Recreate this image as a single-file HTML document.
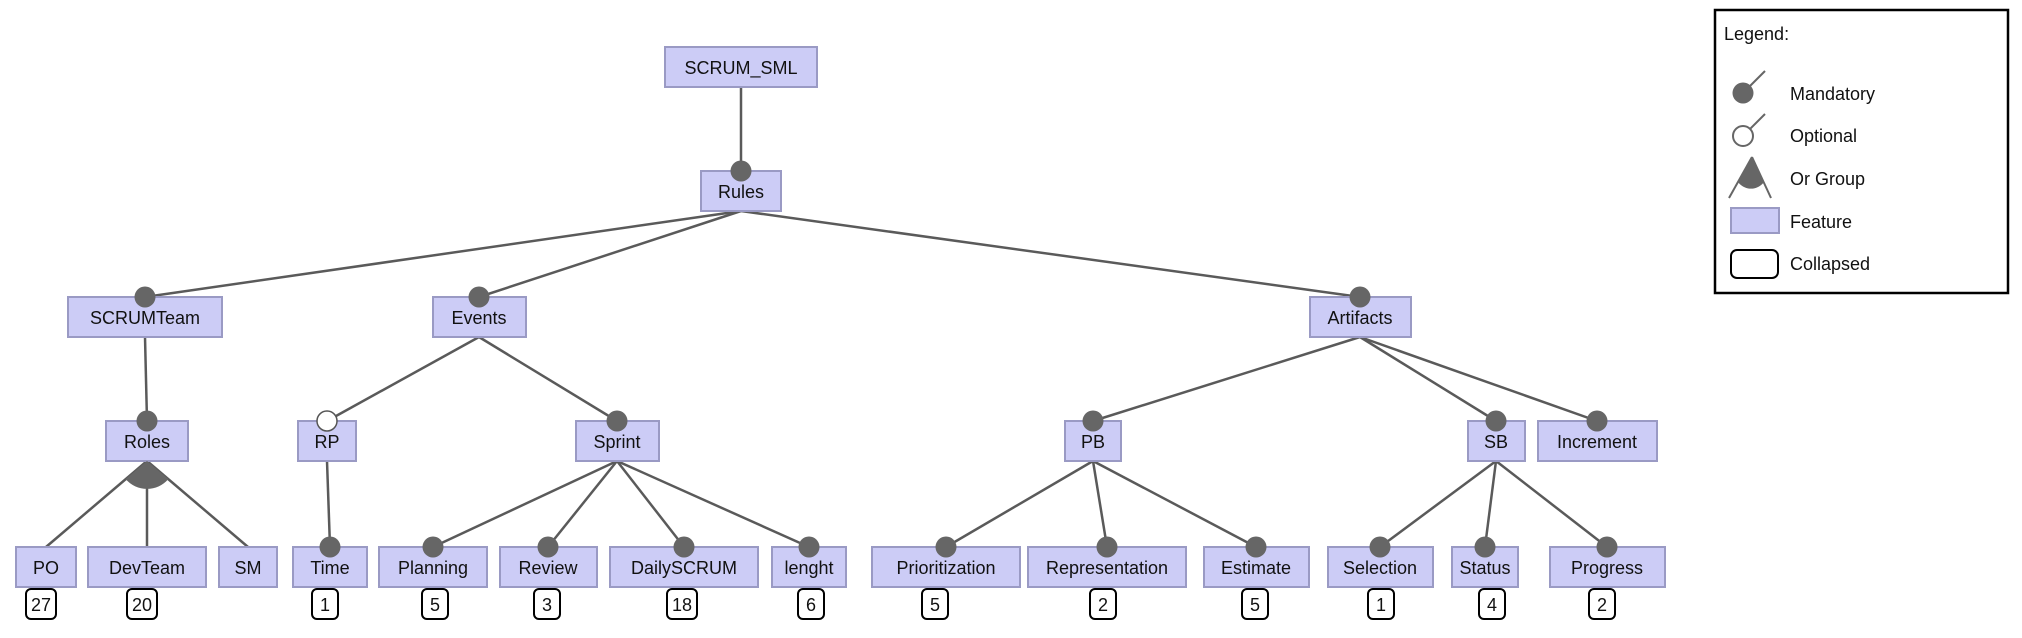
<!DOCTYPE html>
<html><head><meta charset="utf-8"><style>
html,body{margin:0;padding:0;background:#fff;}
svg{display:block;}
text{font-family:"Liberation Sans",sans-serif;font-size:18px;fill:#111;}
.n{fill:#ccccf6;stroke:#9a9ac4;stroke-width:2;}
.e{stroke:#5a5a5a;stroke-width:2.5;fill:none;}
.m{fill:#666;}
.c{fill:#fff;stroke:#000;stroke-width:2;}
</style></head><body>
<svg width="2022" height="638" viewBox="0 0 2022 638" xmlns="http://www.w3.org/2000/svg">
<g class="e">
<line x1="741" y1="87" x2="741" y2="171"/>
<line x1="741" y1="211" x2="145" y2="297"/>
<line x1="741" y1="211" x2="479" y2="297"/>
<line x1="741" y1="211" x2="1360" y2="297"/>
<line x1="145" y1="337" x2="147" y2="421"/>
<line x1="479" y1="337" x2="327" y2="421"/>
<line x1="479" y1="337" x2="617" y2="421"/>
<line x1="1360" y1="337" x2="1093" y2="421"/>
<line x1="1360" y1="337" x2="1496" y2="421"/>
<line x1="1360" y1="337" x2="1597" y2="421"/>
<line x1="147" y1="461" x2="46" y2="547"/>
<line x1="147" y1="461" x2="147" y2="547"/>
<line x1="147" y1="461" x2="248" y2="547"/>
<line x1="327" y1="461" x2="330" y2="547"/>
<line x1="617" y1="461" x2="433" y2="547"/>
<line x1="617" y1="461" x2="548" y2="547"/>
<line x1="617" y1="461" x2="684" y2="547"/>
<line x1="617" y1="461" x2="809" y2="547"/>
<line x1="1093" y1="461" x2="946" y2="547"/>
<line x1="1093" y1="461" x2="1107" y2="547"/>
<line x1="1093" y1="461" x2="1256" y2="547"/>
<line x1="1496" y1="461" x2="1380" y2="547"/>
<line x1="1496" y1="461" x2="1485" y2="547"/>
<line x1="1496" y1="461" x2="1607" y2="547"/>
</g>
<g>
<rect class="n" x="665" y="47" width="152" height="40"/><text x="741" y="74" text-anchor="middle">SCRUM_SML</text>
<rect class="n" x="701" y="171" width="80" height="40"/><text x="741" y="198" text-anchor="middle">Rules</text>
<rect class="n" x="68" y="297" width="154" height="40"/><text x="145" y="324" text-anchor="middle">SCRUMTeam</text>
<rect class="n" x="433" y="297" width="93" height="40"/><text x="479" y="324" text-anchor="middle">Events</text>
<rect class="n" x="1310" y="297" width="101" height="40"/><text x="1360" y="324" text-anchor="middle">Artifacts</text>
<rect class="n" x="106" y="421" width="82" height="40"/><text x="147" y="448" text-anchor="middle">Roles</text>
<rect class="n" x="298" y="421" width="58" height="40"/><text x="327" y="448" text-anchor="middle">RP</text>
<rect class="n" x="576" y="421" width="83" height="40"/><text x="617" y="448" text-anchor="middle">Sprint</text>
<rect class="n" x="1065" y="421" width="56" height="40"/><text x="1093" y="448" text-anchor="middle">PB</text>
<rect class="n" x="1468" y="421" width="57" height="40"/><text x="1496" y="448" text-anchor="middle">SB</text>
<rect class="n" x="1538" y="421" width="119" height="40"/><text x="1597" y="448" text-anchor="middle">Increment</text>
<rect class="n" x="16" y="547" width="60" height="40"/><text x="46" y="574" text-anchor="middle">PO</text>
<rect class="n" x="88" y="547" width="118" height="40"/><text x="147" y="574" text-anchor="middle">DevTeam</text>
<rect class="n" x="219" y="547" width="58" height="40"/><text x="248" y="574" text-anchor="middle">SM</text>
<rect class="n" x="293" y="547" width="74" height="40"/><text x="330" y="574" text-anchor="middle">Time</text>
<rect class="n" x="379" y="547" width="108" height="40"/><text x="433" y="574" text-anchor="middle">Planning</text>
<rect class="n" x="500" y="547" width="97" height="40"/><text x="548" y="574" text-anchor="middle">Review</text>
<rect class="n" x="610" y="547" width="148" height="40"/><text x="684" y="574" text-anchor="middle">DailySCRUM</text>
<rect class="n" x="772" y="547" width="74" height="40"/><text x="809" y="574" text-anchor="middle">lenght</text>
<rect class="n" x="872" y="547" width="148" height="40"/><text x="946" y="574" text-anchor="middle">Prioritization</text>
<rect class="n" x="1028" y="547" width="158" height="40"/><text x="1107" y="574" text-anchor="middle">Representation</text>
<rect class="n" x="1204" y="547" width="105" height="40"/><text x="1256" y="574" text-anchor="middle">Estimate</text>
<rect class="n" x="1328" y="547" width="105" height="40"/><text x="1380" y="574" text-anchor="middle">Selection</text>
<rect class="n" x="1452" y="547" width="66" height="40"/><text x="1485" y="574" text-anchor="middle">Status</text>
<rect class="n" x="1550" y="547" width="115" height="40"/><text x="1607" y="574" text-anchor="middle">Progress</text>
</g>
<g class="m">
<circle cx="741" cy="171" r="10.5"/>
<circle cx="145" cy="297" r="10.5"/>
<circle cx="479" cy="297" r="10.5"/>
<circle cx="1360" cy="297" r="10.5"/>
<circle cx="147" cy="421" r="10.5"/>
<circle cx="617" cy="421" r="10.5"/>
<circle cx="1093" cy="421" r="10.5"/>
<circle cx="1496" cy="421" r="10.5"/>
<circle cx="1597" cy="421" r="10.5"/>
<circle cx="330" cy="547" r="10.5"/>
<circle cx="433" cy="547" r="10.5"/>
<circle cx="548" cy="547" r="10.5"/>
<circle cx="684" cy="547" r="10.5"/>
<circle cx="809" cy="547" r="10.5"/>
<circle cx="946" cy="547" r="10.5"/>
<circle cx="1107" cy="547" r="10.5"/>
<circle cx="1256" cy="547" r="10.5"/>
<circle cx="1380" cy="547" r="10.5"/>
<circle cx="1485" cy="547" r="10.5"/>
<circle cx="1607" cy="547" r="10.5"/>
<path d="M147,461 L125.7,479.1 A28,28 0 0 0 168.3,479.1 Z"/>
</g>
<circle cx="327" cy="421" r="10" fill="#fff" stroke="#555" stroke-width="1.5"/>
<g>
<rect class="c" x="26" y="589" width="30" height="30" rx="5"/><text x="41" y="611" text-anchor="middle">27</text>
<rect class="c" x="127" y="589" width="30" height="30" rx="5"/><text x="142" y="611" text-anchor="middle">20</text>
<rect class="c" x="312" y="589" width="26" height="30" rx="5"/><text x="325" y="611" text-anchor="middle">1</text>
<rect class="c" x="422" y="589" width="26" height="30" rx="5"/><text x="435" y="611" text-anchor="middle">5</text>
<rect class="c" x="534" y="589" width="26" height="30" rx="5"/><text x="547" y="611" text-anchor="middle">3</text>
<rect class="c" x="667" y="589" width="30" height="30" rx="5"/><text x="682" y="611" text-anchor="middle">18</text>
<rect class="c" x="798" y="589" width="26" height="30" rx="5"/><text x="811" y="611" text-anchor="middle">6</text>
<rect class="c" x="922" y="589" width="26" height="30" rx="5"/><text x="935" y="611" text-anchor="middle">5</text>
<rect class="c" x="1090" y="589" width="26" height="30" rx="5"/><text x="1103" y="611" text-anchor="middle">2</text>
<rect class="c" x="1242" y="589" width="26" height="30" rx="5"/><text x="1255" y="611" text-anchor="middle">5</text>
<rect class="c" x="1368" y="589" width="26" height="30" rx="5"/><text x="1381" y="611" text-anchor="middle">1</text>
<rect class="c" x="1479" y="589" width="26" height="30" rx="5"/><text x="1492" y="611" text-anchor="middle">4</text>
<rect class="c" x="1589" y="589" width="26" height="30" rx="5"/><text x="1602" y="611" text-anchor="middle">2</text>
</g>
<rect x="1715" y="10" width="293" height="283" fill="#fff" stroke="#000" stroke-width="2.5"/>
<text x="1724" y="40">Legend:</text>
<line x1="1743" y1="93" x2="1765" y2="71" stroke="#666" stroke-width="2"/>
<circle cx="1743" cy="93" r="10.5" fill="#666"/>
<text x="1790" y="100">Mandatory</text>
<line x1="1743" y1="136" x2="1765" y2="114" stroke="#666" stroke-width="2"/>
<circle cx="1743" cy="136" r="10" fill="#fff" stroke="#666" stroke-width="2"/>
<text x="1790" y="142">Optional</text>
<line x1="1752" y1="157" x2="1729" y2="198" stroke="#666" stroke-width="2"/>
<line x1="1752" y1="157" x2="1771" y2="198" stroke="#666" stroke-width="2"/>
<path d="M1752,157 L1738,182 A16,16 0 0 0 1764,182 Z" fill="#666"/>
<text x="1790" y="185">Or Group</text>
<rect x="1731" y="208" width="48" height="25" fill="#ccccf6" stroke="#9a9ac4" stroke-width="2"/>
<text x="1790" y="228">Feature</text>
<rect x="1731" y="250" width="47" height="28" rx="6" fill="#fff" stroke="#000" stroke-width="2"/>
<text x="1790" y="270">Collapsed</text>
</svg>
</body></html>
